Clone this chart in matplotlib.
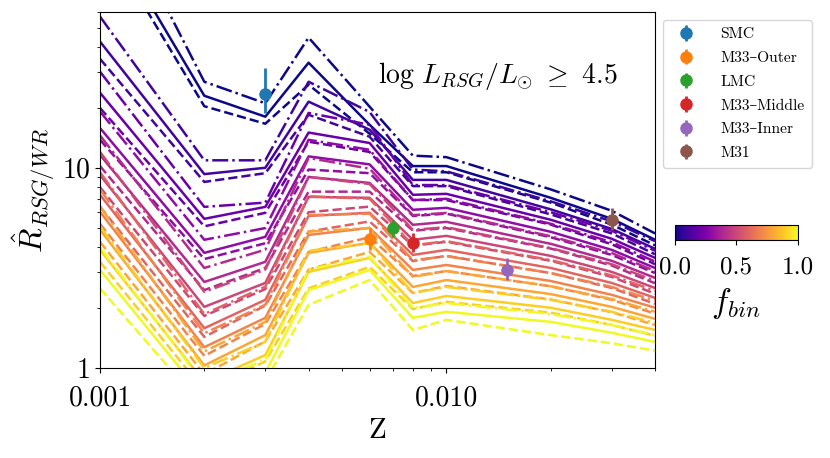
import numpy as np
import matplotlib
matplotlib.use('Agg')
import matplotlib.pyplot as plt
from matplotlib.ticker import FixedLocator, FixedFormatter, NullFormatter

plt.rcParams['font.family'] = ['cmr10', 'DejaVu Serif']
plt.rcParams['mathtext.fontset'] = 'cm'
plt.rcParams['axes.formatter.use_mathtext'] = True

# metallicity grid
Z = [0.001, 0.002, 0.003, 0.004, 0.006, 0.008, 0.010, 0.020, 0.030, 0.040]
fbin = [0.0, 0.1, 0.2, 0.3, 0.4, 0.5, 0.6, 0.7, 0.8, 0.9, 1.0]

# R_RSG/WR for each f_bin (rows) -- three model sets
R_solid = [
    [174, 22.9, 18.0, 33.5, 16.4, 10.2, 10.2, 7.08, 5.56, 4.37],
    [42.7, 9.3, 10.0, 21.4, 15.5, 8.7, 8.7, 6.2, 4.95, 3.94],
    [23.7, 5.56, 6.38, 15.0, 13.3, 7.33, 7.41, 5.50, 4.42, 3.55],
    [15.8, 3.76, 4.52, 11.4, 10.4, 6.17, 6.31, 4.79, 3.89, 3.16],
    [11.6, 2.69, 3.39, 9.0, 8.4, 5.19, 5.37, 4.17, 3.43, 2.82],
    [9.2, 2.02, 2.66, 7.16, 7.08, 4.37, 4.57, 3.63, 3.02, 2.51],
    [7.33, 1.58, 2.19, 5.75, 5.96, 3.67, 3.89, 3.16, 2.66, 2.24],
    [6.03, 1.27, 1.78, 4.62, 5.01, 3.09, 3.27, 2.72, 2.32, 2.0],
    [4.9, 1.03, 1.46, 3.76, 4.22, 2.54, 2.75, 2.34, 2.02, 1.76],
    [3.89, 0.85, 1.16, 3.02, 3.55, 2.11, 2.29, 2.0, 1.74, 1.55],
    [3.09, 0.71, 0.95, 2.45, 3.09, 1.78, 1.91, 1.70, 1.50, 1.35],
]
R_dashdot = [
    [280, 26.9, 21.0, 44.7, 20.2, 11.5, 11.3, 7.8, 6.1, 4.7],
    [56.9, 10.9, 10.9, 26.9, 19.0, 9.8, 9.6, 6.8, 5.4, 4.3],
    [30.2, 6.38, 6.7, 18.8, 16.4, 8.2, 8.2, 6.0, 4.85, 3.85],
    [19.1, 4.37, 5.0, 13.8, 12.3, 6.9, 7.0, 5.25, 4.25, 3.4],
    [14.5, 3.16, 3.9, 11.2, 9.9, 5.8, 5.95, 4.55, 3.75, 3.05],
    [12.0, 2.4, 3.1, 9.0, 8.3, 4.9, 5.05, 3.97, 3.3, 2.72],
    [9.5, 1.86, 2.55, 7.2, 7.0, 4.1, 4.3, 3.46, 2.9, 2.43],
    [7.8, 1.49, 2.07, 5.8, 5.9, 3.45, 3.62, 2.98, 2.54, 2.17],
    [6.4, 1.21, 1.7, 4.8, 5.0, 2.85, 3.05, 2.56, 2.21, 1.91],
    [5.1, 1.0, 1.35, 3.85, 4.2, 2.37, 2.54, 2.19, 1.91, 1.68],
    [4.0, 0.83, 1.1, 3.1, 3.6, 1.99, 2.11, 1.86, 1.64, 1.46],
]
R_dashed = [
    [150, 20.3, 16.6, 26.0, 14.8, 9.5, 9.5, 6.7, 5.2, 4.1],
    [35.0, 8.5, 9.4, 18.4, 14.3, 8.1, 8.1, 5.85, 4.7, 3.7],
    [19.9, 5.1, 5.96, 13.5, 12.0, 6.9, 6.9, 5.2, 4.15, 3.3],
    [13.8, 3.5, 4.2, 9.8, 9.4, 5.75, 5.9, 4.5, 3.67, 2.98],
    [10.2, 2.45, 3.16, 7.6, 7.6, 4.85, 5.0, 3.95, 3.25, 2.65],
    [8.0, 1.82, 2.48, 6.0, 6.4, 4.08, 4.27, 3.43, 2.85, 2.35],
    [6.4, 1.43, 2.05, 4.8, 5.4, 3.42, 3.63, 2.98, 2.51, 2.09],
    [5.25, 1.15, 1.66, 3.8, 4.5, 2.88, 3.05, 2.56, 2.19, 1.87],
    [4.27, 0.93, 1.36, 3.1, 3.8, 2.37, 2.57, 2.2, 1.9, 1.64],
    [3.39, 0.77, 1.08, 2.5, 3.2, 1.97, 2.14, 1.89, 1.64, 1.45],
    [2.5, 0.63, 0.86, 2.07, 2.75, 1.55, 1.74, 1.46, 1.33, 1.22],
]

# observed galaxies
gal_names = ['SMC', 'M33–Outer', 'LMC', 'M33–Middle', 'M33–Inner', 'M31']
gal_Z = [0.003, 0.006, 0.007, 0.008, 0.015, 0.030]
gal_R = [23.4, 4.4, 5.0, 4.2, 3.1, 5.5]
gal_err_lo = [4.6, 0.5, 0.5, 0.4, 0.35, 0.6]
gal_err_hi = [8.2, 0.6, 0.5, 0.5, 0.45, 0.8]

cmap = plt.get_cmap('plasma')

fig = plt.figure(figsize=(8.3, 4.58), dpi=100)
ax = fig.add_axes([0.1205, 0.1965, 0.6687, 0.7773])

for i, f in enumerate(fbin):
    c = cmap(f)
    ax.plot(Z, R_solid[i], color=c, ls='-', lw=1.8)
    ax.plot(Z, R_dashed[i], color=c, ls='--', lw=1.8)
    ax.plot(Z, R_dashdot[i], color=c, ls='-.', lw=1.8)

for k in range(len(gal_names)):
    ax.errorbar(gal_Z[k], gal_R[k], yerr=[[gal_err_lo[k]], [gal_err_hi[k]]],
                fmt='o', color='C%d' % k, ms=8, elinewidth=2, label=gal_names[k], zorder=5)

ax.set_xscale('log')
ax.set_yscale('log')
ax.set_xlim(0.001, 0.04)
ax.set_ylim(1, 60)

ax.xaxis.set_major_locator(FixedLocator([0.001, 0.01]))
ax.xaxis.set_major_formatter(FixedFormatter(['0.001', '0.010']))
ax.xaxis.set_minor_formatter(NullFormatter())
ax.yaxis.set_major_locator(FixedLocator([1, 10]))
ax.yaxis.set_major_formatter(FixedFormatter(['1', '10']))
ax.yaxis.set_minor_formatter(NullFormatter())
ax.tick_params(labelsize=20)
ax.tick_params(axis='x', which='major', pad=9)

ax.set_xlabel('Z', fontsize=21, labelpad=4)
ax.set_ylabel(r'$\hat{R}_{RSG/WR}$', fontsize=23)

ax.text(0.5, 0.82, r'$\log\, L_{RSG}/L_{\odot}\ \geq\ 4.5$', transform=ax.transAxes,
        fontsize=20, va='center', ha='left')

ax.legend(loc='upper left', bbox_to_anchor=(1.0, 1.0), fontsize=11.2,
          borderaxespad=0.5, labelspacing=0.63, handletextpad=1.2, borderpad=0.5)

cax = fig.add_axes([0.813, 0.476, 0.148, 0.033])
sm = matplotlib.cm.ScalarMappable(cmap=cmap, norm=plt.Normalize(0, 1))
cb = fig.colorbar(sm, cax=cax, orientation='horizontal', ticks=[0.0, 0.5, 1.0])
cb.ax.set_xticklabels(['0.0', '0.5', '1.0'])
cb.ax.tick_params(labelsize=18, pad=8)
cb.set_label(r'$f_{bin}$', fontsize=24, labelpad=6)

plt.savefig('out.png', dpi=100)
